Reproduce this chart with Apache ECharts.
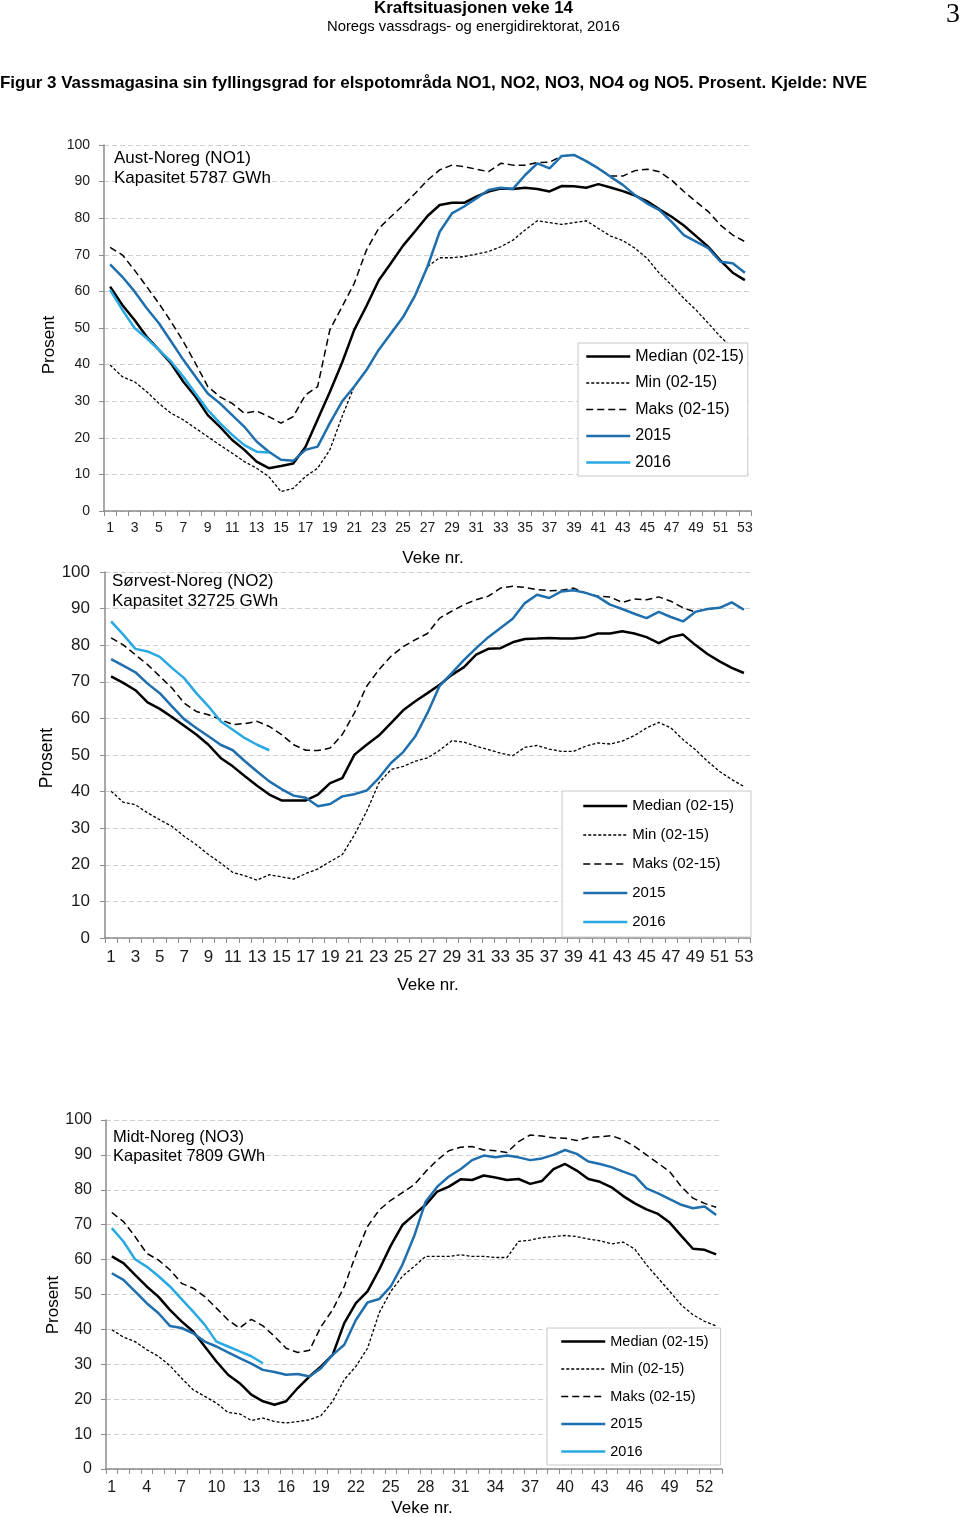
<!DOCTYPE html>
<html>
<head>
<meta charset="utf-8">
<script src="https://cdn.jsdelivr.net/npm/echarts@6.0.0/dist/echarts.min.js"></script>
<style>
  html, body { margin: 0; padding: 0; background: #fff; }
  #chart { width: 960px; height: 1517px; }
</style>
</head>
<body>
<div id="chart"></div>
<script>
// ---------- DATA ----------
const weeks = ['1','2','3','4','5','6','7','8','9','10','11','12','13','14','15','16','17','18','19','20',
  '21','22','23','24','25','26','27','28','29','30','31','32','33','34','35','36','37','38','39','40',
  '41','42','43','44','45','46','47','48','49','50','51','52','53'];

const seriesNames = ['Median (02-15)', 'Min (02-15)', 'Maks (02-15)', '2015', '2016'];

// NO1 Aust-Noreg
const no1Median = [61.3,56.3,52.2,47.6,44,40.3,35.3,31.2,26.2,23, 19.4,16.7,13.5,11.7,12.3,13,17.5,25,32.5,40.5,
  49.5,56,63,67.7,72.5,76.5,80.6,83.6,84.2,84.2, 85.9,87.3,88.1,88,88.3,88,87.3,88.8,88.7,88.3,
  89.3,88.4,87.4,86.2,84.6,82.4,80.4,78,75.1,72.2, 68.4,65.1,63.1];
const no1Min = [39.9,36.7,35.3,32.6,29.4,26.7,24.9,22.6,20.3,18, 15.8,13.5,11.7,9.4,5.3,6.2,9.4,11.7,16.7,25.8,
  34,38.5,44,48.5,53,59,66.8,69.2,69.2,69.5, 70.2,70.9,72.2,74,76.8,79.3,78.8,78.3,78.8,79.3,
  77.2,75.1,73.9,71.8,69,64.9,61.7,58.1,54.9,51.3, 47.6,44.4,41];
const no1Max = [72,70,65.8,61.3,56.7,51.7,46.3,40.3,34,31.2, 29.4,26.7,27.3,25.8,24,25.8,31.7,34,49.5,55.8,
  62.2,71.3,77.2,80.4,83.5,86.8,90.4,93.2,94.5,94.1, 93.4,92.7,95,94.5,94.5,95.2,95.3,97,97.3,95.6,
  93.6,91.5,91.5,93,93.4,92.7,90.4,87.3,84.5,81.8, 78.1,75.4,73.6];
const no1Y2015 = [67.4,64,60,55.4,51.3,46.3,41.3,36.7,32.1,29.4, 26.2,23,19,16.2,14,13.7,16.7,17.6,24,29.9,
  34,38.5,44,48.5,53,59,66.8,76.3,81.3,83.2, 85.4,87.7,88.3,88,91.8,95,93.6,97,97.3,95.6,
  93.6,91.3,89.1,86.3,84,82.2,79,75.4,73.6,71.8, 68.1,67.7,65.1];
const no1Y2016 = [60.4,55,50,47.2,44,40.8,36.7,32.1,27.6,24,20.8,18,16.2,16];

// NO2 Sørvest-Noreg
const no2Median = [71.5,69.7,67.7,64.4,62.6,60.4,58,55.6,52.8,49.2, 46.9,44.2,41.6,39.2,37.6,37.6,37.6,39.2,42.3,43.7,
  50.1,52.8,55.3,58.7,62.2,64.7,66.9,69.2,71.9,74, 77.4,79,79.2,80.8,81.7,81.8,82,81.8,81.8,82.2,
  83.2,83.2,83.8,83.2,82.2,80.6,82.2,82.9,80.1,77.6, 75.6,73.8,72.4];
const no2Min = [40.1,37.1,36.4,34.2,32.3,30.5,27.8,25.5,22.8,20.5, 17.9,17,15.8,17.3,16.7,16.1,17.6,18.9,20.9,22.8,
  28.2,34.6,42.3,46,46.9,48.3,49.2,51.3,53.9,53.5, 52.4,51.5,50.5,49.8,52.1,52.6,51.6,51,51,52.4,
  53.3,53,53.8,55.3,57.4,58.9,57.4,54.2,51.5,48.3, 45.5,43.3,41.4];
const no2Max = [82,80.1,77.4,74.7,71.5,68.3,64.2,61.9,61,59.7, 58.3,58.6,59.2,57.8,55.6,52.8,51.3,51.2,51.9,55.6,
  61.5,68.8,73.3,77,79.6,81.5,83.2,87.4,89.3,91.1, 92.4,93.4,95.6,96.1,95.8,95.2,94.9,95,95.6,94.3,
  93.4,93.2,91.7,92.6,92.4,93.2,92,90.2,89.1,89.9, 90.2,91.7,89.7];
const no2Y2015 = [76.2,74.4,72.6,69.5,66.9,63.3,59.8,57.4,55.1,52.8, 51.3,48.3,45.5,42.8,40.7,38.9,38.3,36,36.6,38.7,
  39.3,40.3,43.7,47.8,50.8,55.1,61.5,68.9,72.4,76, 79.2,82.2,84.7,87.2,91.5,93.8,92.9,94.7,95,94.3,
  93.2,91.1,89.9,88.6,87.4,89.1,87.7,86.5,89.1,89.9, 90.2,91.7,89.7];
const no2Y2016 = [86.5,82.9,79,78.3,76.8,73.8,71,66.9,63.3,59.2,56.9,54.6,52.8,51.3];

// NO3 Midt-Noreg
const no3Median = [60.9,59,55.6,52.3,49.4,45.6,42.3,39.4,35.1,30.8, 27,24.6,21.3,19.4,18.4,19.4,23.2,26.5,29.4,32.7,
  41.8,47.5,50.9,57.1,64,69.9,72.8,75.7,79.5,80.9, 83,82.8,84.1,83.5,82.8,83.1,81.7,82.5,85.9,87.4,
  85.5,83.1,82.3,80.7,78.2,76.1,74.4,73.1,70.6,66.8, 63.1,62.8,61.5];
const no3Min = [39.9,37.8,36.5,34.2,32.3,29.6,26,22.7,20.8,18.9, 16.2,15.8,13.9,14.6,13.6,13.2,13.6,14.1,15.3,19.4,
  25.6,29.4,34.6,44.7,50.9,55.2,58,60.9,60.9,60.9, 61.4,60.9,60.9,60.6,60.6,65.2,65.6,66.3,66.6,66.9,
  66.6,65.9,65.4,64.5,65,63,58.5,54.7,50.9,47, 44.2,42.3,41];
const no3Max = [73.5,70.9,66.6,61.8,59.9,57.1,53.2,51.8,49.4,46.1, 42.7,40.4,42.9,41,38,34.6,33.4,34,40.8,45.6,
  52.3,61.4,69.5,74.2,77,79.2,81.4,85.2,88.5,91.2, 92.2,92.4,91.4,91.2,90.7,93.8,95.7,95.4,94.9,94.8,
  94.1,95,95.2,95.5,94.3,92.4,90,87.6,85.2,80.9, 77.6,76.1,75];
const no3Y2015 = [56.1,54.2,50.9,47.5,44.7,41,40.4,38.9,36.5,35.1, 33.4,31.8,30.2,28.4,27.8,27,27.2,26.5,28.9,32.7,
  35.6,42.7,47.7,48.7,52.3,58.5,66.6,76.6,80.9,83.8, 85.9,88.5,89.8,89.3,89.8,89.3,88.5,89,90,91.4,
  90.3,88.1,87.4,86.5,85.2,84,80.4,79,77.3,75.7, 74.7,75.2,72.8];
const no3Y2016 = [69,65.2,60.1,58,55.3,52.3,48.7,45.1,41.3,36.5,35.1,33.7,32.3,30.3];

// ---------- LAYOUT / STYLE ----------
const FF = '"Liberation Sans", Arial, Helvetica, sans-serif';
const C2015 = '#1f6fae';
const C2016 = '#29a9e1';
const GRID_LINE = '#cfcfcf';
const AXIS_C = '#8c8c8c';

const panels = [
  { data: [no1Median, no1Min, no1Max, no1Y2015, no1Y2016],
    grid: {left: 104, top: 145, width: 647, height: 366},
    xFont: 14, yFont: 14, xMargin: 10, yMargin: 14, xInterval: 1,
    legend: {left: 578, top: 343, padding: [5.5, 4, 5.5, 7], itemGap: 10.5, font: 16} },
  { data: [no2Median, no2Min, no2Max, no2Y2015, no2Y2016],
    grid: {left: 105, top: 572, width: 645, height: 366},
    xFont: 17, yFont: 17, xMargin: 11, yMargin: 15, xInterval: 1,
    legend: {left: 562, top: 791, padding: [7.5, 17, 7.5, 20], itemGap: 14, font: 15} },
  { data: [no3Median, no3Min, no3Max, no3Y2015, no3Y2016],
    grid: {left: 106, top: 1120, width: 616, height: 349},
    xFont: 16, yFont: 16, xMargin: 11, yMargin: 14, xInterval: 2,
    legend: {left: 547, top: 1328, padding: [6, 12, 6, 13], itemGap: 12.5, font: 14.5} }
];

const lineStyles = [
  {color: '#000', width: 2.5, type: 'solid'},
  {color: '#000', width: 1.3, type: [3, 2]},
  {color: '#000', width: 1.5, type: [7, 4]},
  {color: C2015, width: 2.5, type: 'solid'},
  {color: C2016, width: 2.5, type: 'solid'}
];

const grids = [], xAxes = [], yAxes = [], series = [], legends = [];
panels.forEach((p, i) => {
  grids.push(Object.assign({containLabel: false}, p.grid));
  xAxes.push({
    type: 'category', gridIndex: i, data: weeks, boundaryGap: true,
    axisLine: {lineStyle: {color: AXIS_C, width: 1.5}},
    axisTick: {show: true, interval: 0, length: 5, lineStyle: {color: AXIS_C, width: 1}},
    axisLabel: {interval: p.xInterval, fontSize: p.xFont, fontFamily: FF, color: '#1a1a1a', margin: p.xMargin},
    splitLine: {show: false}
  });
  yAxes.push({
    type: 'value', gridIndex: i, min: 0, max: 100, interval: 10,
    axisLine: {show: true, lineStyle: {color: AXIS_C, width: 1.5}},
    axisTick: {show: true, length: 5, lineStyle: {color: AXIS_C, width: 1}},
    axisLabel: {fontSize: p.yFont, fontFamily: FF, color: '#1a1a1a', margin: p.yMargin},
    splitLine: {show: true, lineStyle: {color: GRID_LINE, width: 1, type: [5, 3]}}
  });
  seriesNames.forEach((name, k) => {
    series.push({
      name: name, type: 'line', xAxisIndex: i, yAxisIndex: i,
      data: p.data[k], symbol: 'none', showSymbol: false, smooth: false,
      color: lineStyles[k].color,
      itemStyle: {color: lineStyles[k].color},
      lineStyle: lineStyles[k],
      z: 2 + k
    });
  });
  legends.push({
    orient: 'vertical', left: p.legend.left, top: p.legend.top,
    padding: p.legend.padding, itemWidth: 44, itemHeight: 14, itemGap: p.legend.itemGap,
    backgroundColor: '#fff', borderColor: '#c8c8c8', borderWidth: 1, borderRadius: 0,
    selectedMode: false, z: 10,
    itemStyle: {opacity: 0},
    textStyle: {fontSize: p.legend.font, fontFamily: FF, color: '#000'},
    data: seriesNames.map((n, k) => ({
      name: n,
      lineStyle: {width: lineStyles[k].width, type: lineStyles[k].type, color: lineStyles[k].color}
    }))
  });
});

// helper to fit header texts to measured widths
const mctx = document.createElement('canvas').getContext('2d');
function fitScale(text, font, target) {
  mctx.font = font;
  const w = mctx.measureText(text).width;
  return w > 0 ? target / w : 1;
}

function txt(text, x, y, size, opts) {
  opts = opts || {};
  const weight = opts.weight || 'normal';
  const family = opts.family || FF;
  const el = {
    type: 'text', x: x, y: y, z: 20,
    rotation: opts.rotation || 0,
    style: {
      text: text, fill: '#000',
      fontSize: size, fontWeight: weight, fontFamily: family,
      align: opts.align || 'left', verticalAlign: 'middle'
    }
  };
  if (opts.width) {
    el.scaleX = fitScale(text, weight + ' ' + size + 'px ' + family, opts.width);
  }
  return el;
}

const graphics = [
  txt('Kraftsituasjonen veke 14', 473.5, 9, 16, {weight: 'bold', align: 'center', width: 199}),
  txt('Noregs vassdrags- og energidirektorat, 2016', 473.5, 26.5, 14.5, {align: 'center', width: 293}),
  txt('3', 953, 15, 28, {align: 'center', family: '"Liberation Serif", "Times New Roman", serif'}),
  txt('Figur 3 Vassmagasina sin fyllingsgrad for elspotområda NO1, NO2, NO3, NO4 og NO5. Prosent. Kjelde: NVE',
      0, 83, 17, {weight: 'bold', width: 867}),
  // panel 1
  txt('Aust-Noreg (NO1)', 114, 158, 17),
  txt('Kapasitet 5787 GWh', 114, 178, 17),
  txt('Prosent', 49, 345, 17, {align: 'center', rotation: Math.PI / 2}),
  txt('Veke nr.', 433, 558, 17, {align: 'center'}),
  // panel 2
  txt('Sørvest-Noreg (NO2)', 112, 581, 17),
  txt('Kapasitet 32725 GWh', 112, 601, 17),
  txt('Prosent', 47, 758, 17.5, {align: 'center', rotation: Math.PI / 2}),
  txt('Veke nr.', 428, 985, 17, {align: 'center'}),
  // panel 3
  txt('Midt-Noreg (NO3)', 113, 1137, 16.5),
  txt('Kapasitet 7809 GWh', 113, 1156, 16.5),
  txt('Prosent', 53, 1305, 17, {align: 'center', rotation: Math.PI / 2}),
  txt('Veke nr.', 422, 1508, 17, {align: 'center'})
];

const chart = echarts.init(document.getElementById('chart'), null, {renderer: 'canvas'});
chart.setOption({
  animation: false,
  backgroundColor: '#fff',
  grid: grids,
  xAxis: xAxes,
  yAxis: yAxes,
  legend: legends,
  series: series,
  graphic: graphics
});
</script>
</body>
</html>
